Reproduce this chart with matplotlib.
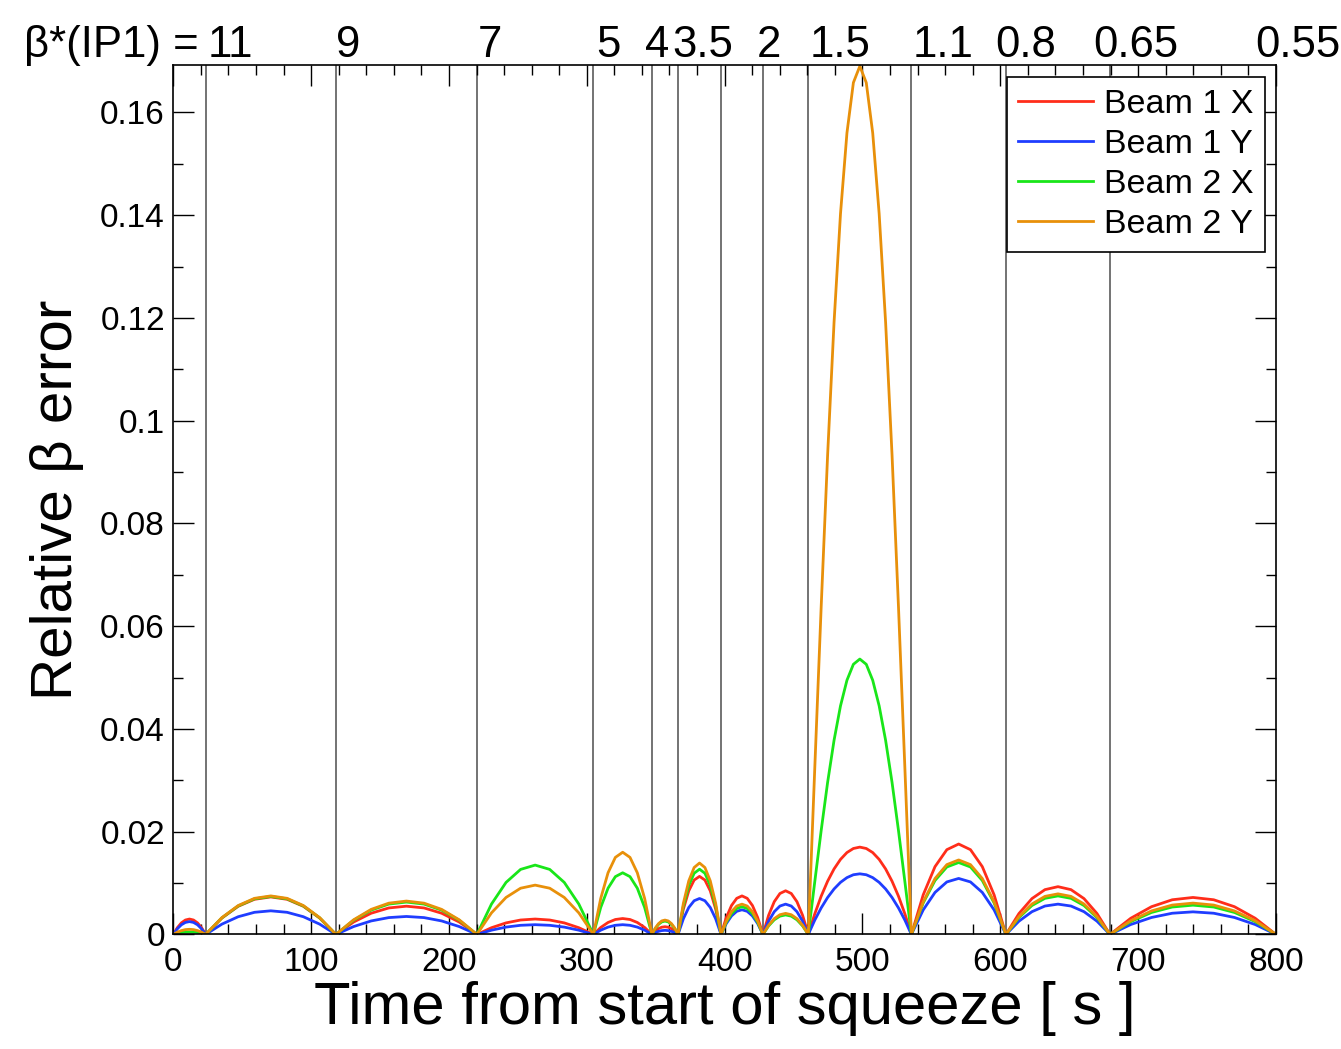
import matplotlib
matplotlib.use('Agg')
import matplotlib.pyplot as plt
from matplotlib.ticker import MultipleLocator, FuncFormatter
from matplotlib.transforms import blended_transform_factory
import numpy as np

plt.rcParams['font.family'] = ['Liberation Sans', 'DejaVu Sans']

# Matching points of the squeeze [s] (vertical lines) and beta* value labels on top
t_knots = [0, 23.5, 118, 220.3, 304.8, 347.3, 366.2, 397.4, 427.8, 460.7, 535.5, 604.1, 679.6, 800]
beta_labels = ['11', '9', '7', '5', '4', '3.5', '2', '1.5', '1.1', '0.8', '0.65', '0.55']
label_x = [25.2, 118, 221, 306.7, 342.2, 361.8, 423.4, 461.9, 536.6, 596.1, 667.3, 784.8]

# Relative beta error read inside each segment (evenly spaced samples, zero at the knots)
beam1_x = [
    [0.00131, 0.00225, 0.00281, 0.0030, 0.00281, 0.00225, 0.00131],
    [0.00319, 0.00548, 0.00684, 0.0073, 0.00684, 0.00548, 0.00319],
    [0.00241, 0.00413, 0.00516, 0.0055, 0.00516, 0.00413, 0.00241],
    [0.00131, 0.00225, 0.00281, 0.0030, 0.00281, 0.00225, 0.00131],
    [0.00136, 0.00233, 0.00291, 0.0031, 0.00291, 0.00233, 0.00136],
    [0.00066, 0.00113, 0.00141, 0.0015, 0.00141, 0.00113, 0.00066],
    [0.00494, 0.00848, 0.01059, 0.0113, 0.01059, 0.00848, 0.00494],
    [0.00328, 0.00563, 0.00703, 0.0075, 0.00703, 0.00563, 0.00328],
    [0.00372, 0.00638, 0.00797, 0.0085, 0.00797, 0.00638, 0.00372],
    [0.00398, 0.00744, 0.01036, 0.01275, 0.01461, 0.01594, 0.01673, 0.0170,
     0.01673, 0.01594, 0.01461, 0.01275, 0.01036, 0.00744, 0.00398],
    [0.0077, 0.0132, 0.0165, 0.0176, 0.0165, 0.0132, 0.0077],
    [0.00407, 0.00698, 0.00872, 0.0093, 0.00872, 0.00698, 0.00407],
    [0.00315, 0.0054, 0.00675, 0.0072, 0.00675, 0.0054, 0.00315],
]
beam1_y = [
    [0.00109, 0.00188, 0.00234, 0.0025, 0.00234, 0.00188, 0.00109],
    [0.00201, 0.00345, 0.00431, 0.0046, 0.00431, 0.00345, 0.00201],
    [0.00153, 0.00263, 0.00328, 0.0035, 0.00328, 0.00263, 0.00153],
    [0.00083, 0.00143, 0.00178, 0.0019, 0.00178, 0.00143, 0.00083],
    [0.00083, 0.00143, 0.00178, 0.0019, 0.00178, 0.00143, 0.00083],
    [0.00035, 0.0006, 0.00075, 0.0008, 0.00075, 0.0006, 0.00035],
    [0.00306, 0.00525, 0.00656, 0.0070, 0.00656, 0.00525, 0.00306],
    [0.0021, 0.0036, 0.0045, 0.0048, 0.0045, 0.0036, 0.0021],
    [0.00258, 0.00443, 0.00553, 0.0059, 0.00553, 0.00443, 0.00258],
    [0.00277, 0.00516, 0.00719, 0.00885, 0.01014, 0.01106, 0.01162, 0.0118,
     0.01162, 0.01106, 0.01014, 0.00885, 0.00719, 0.00516, 0.00277],
    [0.00477, 0.00818, 0.01022, 0.0109, 0.01022, 0.00818, 0.00477],
    [0.00258, 0.00443, 0.00553, 0.0059, 0.00553, 0.00443, 0.00258],
    [0.00193, 0.0033, 0.00413, 0.0044, 0.00413, 0.0033, 0.00193],
]
beam2_x = [
    [0.00022, 0.00038, 0.00047, 0.0005, 0.00047, 0.00038, 0.00022],
    [0.00324, 0.00555, 0.00694, 0.0074, 0.00694, 0.00555, 0.00324],
    [0.00276, 0.00473, 0.00591, 0.0063, 0.00591, 0.00473, 0.00276],
    [0.00591, 0.01013, 0.01266, 0.0135, 0.01266, 0.01013, 0.00591],
    [0.00525, 0.009, 0.01125, 0.0120, 0.01125, 0.009, 0.00525],
    [0.00114, 0.00195, 0.00244, 0.0026, 0.00244, 0.00195, 0.00114],
    [0.00556, 0.00953, 0.01191, 0.0127, 0.01191, 0.00953, 0.00556],
    [0.00236, 0.00405, 0.00506, 0.0054, 0.00506, 0.00405, 0.00236],
    [0.00166, 0.00285, 0.00356, 0.0038, 0.00356, 0.00285, 0.00166],
    [0.01018, 0.02021, 0.02959, 0.03779, 0.04449, 0.04947, 0.05258, 0.0536,
     0.05258, 0.04947, 0.04449, 0.03779, 0.02959, 0.02021, 0.01018],
    [0.00613, 0.0105, 0.01313, 0.0140, 0.01313, 0.0105, 0.00613],
    [0.00328, 0.00563, 0.00703, 0.0075, 0.00703, 0.00563, 0.00328],
    [0.00249, 0.00428, 0.00534, 0.0057, 0.00534, 0.00428, 0.00249],
]
beam2_y = [
    [0.00044, 0.00075, 0.00094, 0.0010, 0.00094, 0.00075, 0.00044],
    [0.00328, 0.00563, 0.00703, 0.0075, 0.00703, 0.00563, 0.00328],
    [0.00284, 0.00488, 0.00609, 0.0065, 0.00609, 0.00488, 0.00284],
    [0.0042, 0.0072, 0.0090, 0.0096, 0.0090, 0.0072, 0.0042],
    [0.0070, 0.0120, 0.0150, 0.0160, 0.0150, 0.0120, 0.0070],
    [0.00123, 0.0021, 0.00263, 0.0028, 0.00263, 0.0021, 0.00123],
    [0.00608, 0.01043, 0.01303, 0.0139, 0.01303, 0.01043, 0.00608],
    [0.00258, 0.00443, 0.00553, 0.0059, 0.00553, 0.00443, 0.00258],
    [0.00179, 0.00308, 0.00384, 0.0041, 0.00384, 0.00308, 0.00179],
    [0.03211, 0.06371, 0.09329, 0.11915, 0.14027, 0.15599, 0.16579, 0.1690,
     0.16579, 0.15599, 0.14027, 0.11915, 0.09329, 0.06371, 0.03211],
    [0.00634, 0.01088, 0.01359, 0.0145, 0.01359, 0.01088, 0.00634],
    [0.00346, 0.00593, 0.00741, 0.0079, 0.00741, 0.00593, 0.00346],
    [0.00267, 0.00458, 0.00572, 0.0061, 0.00572, 0.00458, 0.00267],
]


def to_series(segments):
    # join the per-segment samples into one time series, zero at each matching point
    t, v = [t_knots[0]], [0.0]
    for i, seg in enumerate(segments):
        ts = np.linspace(t_knots[i], t_knots[i + 1], len(seg) + 2)[1:]
        t.extend(ts)
        v.extend(list(seg) + [0.0])
    return t, v


fig = plt.figure(figsize=(13.41, 10.49), dpi=100)
ax = fig.add_axes([0.1292, 0.1092, 0.8223, 0.8292])

# Vertical lines at the matching points
for tk in t_knots[1:-1]:
    ax.axvline(tk, color='#4d4d4d', lw=1.1, zorder=1)

series = [(beam1_x, 'Beam 1 X', '#ff2d1a'),
          (beam1_y, 'Beam 1 Y', '#1f3dff'),
          (beam2_x, 'Beam 2 X', '#19e619'),
          (beam2_y, 'Beam 2 Y', '#e8900a')]
for segs, label, color in series:
    t, v = to_series(segs)
    ax.plot(t, v, color=color, lw=2.0, label=label, zorder=2)

ax.set_xlim(0, 800)
ax.set_ylim(0, 0.1693)

ax.xaxis.set_major_locator(MultipleLocator(100))
ax.xaxis.set_minor_locator(MultipleLocator(20))
ax.yaxis.set_major_locator(MultipleLocator(0.02))
ax.yaxis.set_minor_locator(MultipleLocator(0.01))
ax.yaxis.set_major_formatter(FuncFormatter(lambda y, p: '%g' % round(y, 4)))

ax.tick_params(which='both', direction='in', top=True, right=True, width=1.0, color='black')
ax.tick_params(which='major', length=15, labelsize=24)
ax.tick_params(which='minor', length=7.5)
ax.tick_params(axis='x', which='major', pad=9)
ax.tick_params(axis='y', which='major', pad=6)
for s in ax.spines.values():
    s.set_linewidth(1.2)

ax.set_xlabel('Time from start of squeeze [ s ]', fontsize=43, labelpad=2)
ax.set_ylabel('Relative β error', fontsize=42, labelpad=12)

# beta* labels along the top
trans = blended_transform_factory(ax.transData, ax.transAxes)
for lx, lab in zip(label_x, beta_labels):
    ax.text(lx, 1.009, lab, transform=trans, ha='left', va='baseline', fontsize=31.5)
ax.text(18.6, 1.009, 'β*(IP1) =', transform=trans, ha='right', va='baseline', fontsize=31.5)

leg = ax.legend(loc='upper right', bbox_to_anchor=(0.990, 0.986), borderaxespad=0,
                fontsize=24.5, fancybox=False, framealpha=1, edgecolor='black',
                handlelength=2.2, handletextpad=0.3, labelspacing=0.27, borderpad=0.35)
leg.get_frame().set_linewidth(1.2)

fig.savefig('out.png', dpi=100)
